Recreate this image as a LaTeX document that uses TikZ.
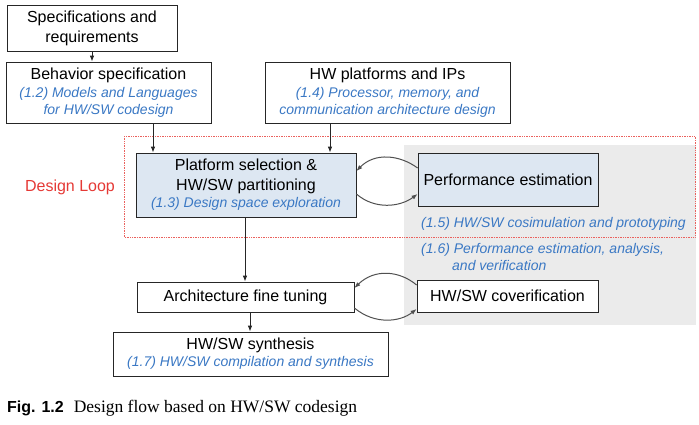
\documentclass[tikz,border=0pt]{standalone}
\usepackage{fontspec}
\setmainfont{Liberation Serif}
\setsansfont{Liberation Sans}
\usetikzlibrary{arrows.meta}
\definecolor{bluetxt}{HTML}{3A78C4}
\definecolor{boxfill}{HTML}{DDE7F2}
\definecolor{grayreg}{HTML}{EBEBEB}
\definecolor{loopred}{HTML}{E53935}
\definecolor{curvegray}{HTML}{505050}
\tikzset{
  px/.style={x=1pt,y=-1pt},
  blk/.style={draw=black!85, line width=0.8pt, inner sep=0pt, font=\sffamily\fontsize{16}{20}\selectfont, align=center},
  bluebox/.style={blk, fill=boxfill},
  arr/.style={-{Latex[length=6pt,width=4.5pt]}, line width=0.8pt, draw=black!85},
  curv/.style={-{Latex[length=6pt,width=4.5pt]}, line width=1pt, draw=curvegray},
  sub/.style={font=\sffamily\itshape\fontsize{14}{17}\selectfont, text=bluetxt},
}
\newcommand{\subt}[1]{{\sffamily\itshape\fontsize{14}{17}\selectfont\color{bluetxt}#1}}
\begin{document}
\begin{tikzpicture}[px]
\useasboundingbox (0,0) rectangle (699,424);
% gray region
\fill[grayreg] (404,145) rectangle (696,325);
% red dotted loop frame
\draw[loopred!80, densely dotted, line width=0.7pt] (124,136) rectangle (695,237);
\node[text=loopred, font=\sffamily\fontsize{16}{20}\selectfont] (loop) at (70,187) {Design Loop};

% boxes
\node[blk, minimum width=170pt, minimum height=46pt] (spec) at (92,28) {Specifications and\\requirements};
\node[blk, minimum width=205pt, minimum height=61pt] (beh) at (108.5,92.5) {Behavior specification\\[-2pt]\subt{(1.2) Models and Languages}\\[-3pt]\subt{for HW/SW codesign}};
\node[blk, minimum width=245pt, minimum height=61pt] (hwp) at (387.5,92.5) {HW platforms and IPs\\[-2pt]\subt{(1.4) Processor, memory, and}\\[-3pt]\subt{communication architecture design}};
\node[bluebox, minimum width=220pt, minimum height=64pt] (plat) at (246,185) {Platform selection \&\\HW/SW partitioning\\[-3pt]\subt{(1.3) Design space exploration}};
\node[bluebox, minimum width=180pt, minimum height=53pt] (perf) at (508,179.5) {Performance estimation};
\node[blk, fill=white, minimum width=181pt, minimum height=32pt] (cov) at (507.5,296) {HW/SW coverification};
\node[blk, fill=white, minimum width=217pt, minimum height=30pt] (arch) at (245.5,297) {Architecture fine tuning};
\node[blk, fill=white, minimum width=275pt, minimum height=44pt] (syn) at (250.5,354) {HW/SW synthesis\\[-3pt]\subt{(1.7) HW/SW compilation and synthesis}};

% labels
\node[sub, anchor=west, inner sep=0pt] (l15) at (421,224) {(1.5) HW/SW cosimulation and prototyping};
\node[sub, anchor=north west, inner sep=0pt, align=left] (l16) at (421,243) {(1.6) Performance estimation, analysis,\\\hspace*{31pt}and verification};

% caption
\node[anchor=west, inner sep=0pt, font=\fontsize{17.5}{20}\selectfont] (cap) at (7,408) {{\sffamily\bfseries\fontsize{16}{20}\selectfont Fig. 1.2}\hspace{10pt}Design flow based on HW/SW codesign};

% arrows
\draw[arr] (spec.south) -- (spec.south |- beh.north);
\draw[arr] (beh.south -| 153,0) -- (plat.north -| 153,0);
\draw[arr] (hwp.south -| 330,0) -- (plat.north -| 330,0);
\draw[arr] (plat.south -| 245,0) -- (arch.north -| 245,0);
\draw[arr] (arch.south -| 250,0) -- (syn.north -| 250,0);

% loop curves
\draw[curv] (perf.west |- 0,168) .. controls (400,155) and (375,152) .. (plat.east |- 0,171);
\draw[curv] (plat.east |- 0,194) .. controls (375,210) and (400,207) .. (perf.west |- 0,194);
\draw[curv] (cov.west |- 0,285) .. controls (400,271) and (375,268) .. (arch.east |- 0,288);
\draw[curv] (arch.east |- 0,308) .. controls (375,325) and (400,322) .. (cov.west |- 0,309);
\end{tikzpicture}
\end{document}
